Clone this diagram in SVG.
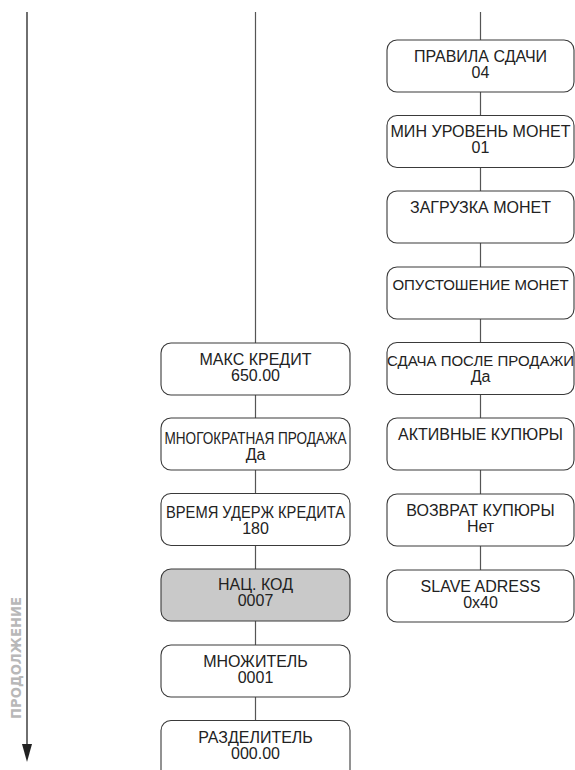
<svg xmlns="http://www.w3.org/2000/svg" width="575" height="770" viewBox="0 0 575 770">
<style>
.box{fill:#fff;stroke:#3a3a3a;stroke-width:1.1}
.gray{fill:#c9c9c9}
.t{font-family:"Liberation Sans",Arial,sans-serif;font-size:16px;fill:#222;text-anchor:middle}
.s{font-size:15px}
.c{stroke:#555;stroke-width:1.2;fill:none}
</style>
<g id="connectors">
<path class="c" d="M255.5,12V343 M255.5,395V418 M255.5,470V493.5 M255.5,545.5V569 M255.5,621V645 M255.5,697V720.5"/>
<path class="c" d="M480.5,12V40 M480.5,92V115.5 M480.5,167.5V191 M480.5,243V267 M480.5,319V342.5 M480.5,394.5V418 M480.5,470V494 M480.5,546V570"/>
<line x1="27" y1="12" x2="27" y2="750" stroke="#222" stroke-width="1.3"/>
<path d="M22,744 L32,744 L27,762 Z" fill="#222"/>
</g>
<g id="continue-label">
<text transform="translate(21,658) rotate(-90)" font-family="'DejaVu Sans',sans-serif" font-weight="bold" font-size="14" fill="#b8b8b8" text-anchor="middle" textLength="122" lengthAdjust="spacingAndGlyphs">ПРОДОЛЖЕНИЕ</text>
</g>
<g id="n-maks-kredit"><rect class="box" x="161" y="343" width="189" height="52" rx="10"/><text class="t" x="255.5" y="365">МАКС КРЕДИТ</text><text class="t" x="255.5" y="381">650.00</text></g>
<g id="n-mnogokratnaya"><rect class="box" x="161" y="418" width="189" height="52" rx="10"/><text class="t" x="255.5" y="444" textLength="182" lengthAdjust="spacingAndGlyphs">МНОГОКРАТНАЯ ПРОДАЖА</text><text class="t" x="255.5" y="460">Да</text></g>
<g id="n-vremya"><rect class="box" x="161" y="493.5" width="189" height="52" rx="10"/><text class="t" x="255.5" y="518" textLength="179" lengthAdjust="spacingAndGlyphs">ВРЕМЯ УДЕРЖ КРЕДИТА</text><text class="t" x="255.5" y="534">180</text></g>
<g id="n-nac-kod"><rect class="box gray" x="161" y="569" width="189" height="52" rx="10"/><text class="t" x="255.5" y="590">НАЦ. КОД</text><text class="t" x="255.5" y="606">0007</text></g>
<g id="n-mnozhitel"><rect class="box" x="161" y="645" width="189" height="52" rx="10"/><text class="t" x="255.5" y="667">МНОЖИТЕЛЬ</text><text class="t" x="255.5" y="683">0001</text></g>
<g id="n-razdelitel"><rect class="box" x="161" y="720.5" width="189" height="60" rx="10"/><text class="t" x="255.5" y="743">РАЗДЕЛИТЕЛЬ</text><text class="t" x="255.5" y="759">000.00</text></g>
<g id="n-pravila"><rect class="box" x="387" y="40" width="187" height="52" rx="10"/><text class="t" x="480.5" y="62">ПРАВИЛА СДАЧИ</text><text class="t" x="480.5" y="78">04</text></g>
<g id="n-min-uroven"><rect class="box" x="387" y="115.5" width="187" height="52" rx="10"/><text class="t" x="480.5" y="137" textLength="180" lengthAdjust="spacingAndGlyphs">МИН УРОВЕНЬ МОНЕТ</text><text class="t" x="480.5" y="153">01</text></g>
<g id="n-zagruzka"><rect class="box" x="387" y="191" width="187" height="52" rx="10"/><text class="t" x="480.5" y="213">ЗАГРУЗКА МОНЕТ</text></g>
<g id="n-opustoshenie"><rect class="box" x="387" y="267" width="187" height="52" rx="10"/><text class="t s" x="480.5" y="290">ОПУСТОШЕНИЕ МОНЕТ</text></g>
<g id="n-sdacha"><rect class="box" x="387" y="342.5" width="187" height="52" rx="10"/><text class="t s" x="480.5" y="366">СДАЧА ПОСЛЕ ПРОДАЖИ</text><text class="t" x="480.5" y="382">Да</text></g>
<g id="n-aktivnye"><rect class="box" x="387" y="418" width="187" height="52" rx="10"/><text class="t" x="480.5" y="440">АКТИВНЫЕ КУПЮРЫ</text></g>
<g id="n-vozvrat"><rect class="box" x="387" y="494" width="187" height="52" rx="10"/><text class="t" x="480.5" y="516">ВОЗВРАТ КУПЮРЫ</text><text class="t" x="480.5" y="532">Нет</text></g>
<g id="n-slave"><rect class="box" x="387" y="570" width="187" height="52" rx="10"/><text class="t" x="480.5" y="592">SLAVE ADRESS</text><text class="t" x="480.5" y="608">0x40</text></g>
</svg>
